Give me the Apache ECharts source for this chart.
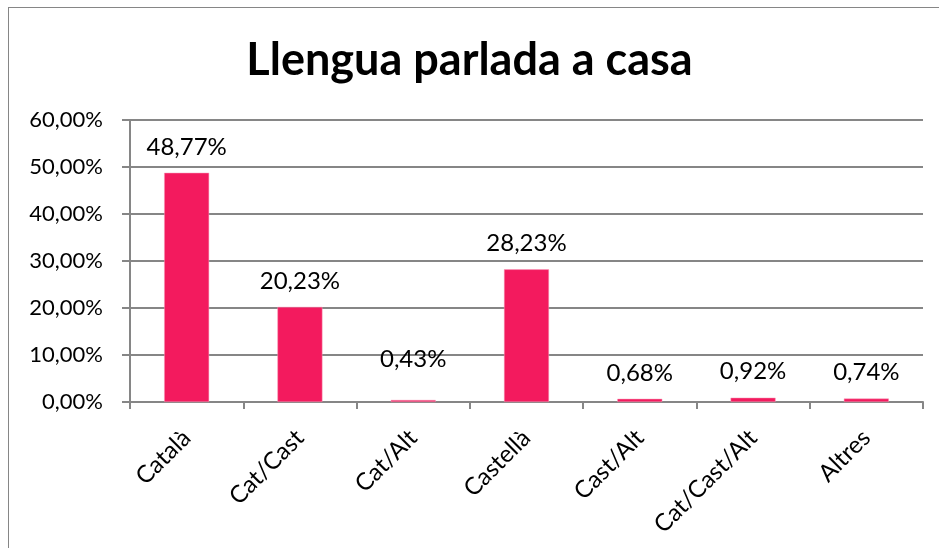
<!DOCTYPE html>
<html>
<head>
<meta charset="utf-8">
<script src="https://cdn.jsdelivr.net/npm/echarts@6/dist/echarts.min.js"></script>
<style>
  html, body { margin: 0; padding: 0; background: #fff; }
  #main { width: 939px; height: 548px; }
  #frame { position: absolute; left: 8px; top: 7px; width: 960px; height: 600px; border: 1px solid #868686; box-sizing: border-box; pointer-events: none; }
</style>
</head>
<body>
<div id="main"></div>
<div id="frame"></div>
<script>
var categories = ['Català', 'Cat/Cast', 'Cat/Alt', 'Castellà', 'Cast/Alt', 'Cat/Cast/Alt', 'Altres'];
var values = [48.77, 20.23, 0.43, 28.23, 0.68, 0.92, 0.74];
var titleText = 'Llengua parlada a casa';

function fmt(v) {
  return v.toFixed(2).replace('.', ',') + '%';
}

var barData = values.map(function(v, i) {
  var item = { value: v };
  // Cat/Alt label sits a bit higher in the original
  if (i === 2) {
    item.label = { offset: [0, -15] };
  }
  return item;
});

var chart = echarts.init(document.getElementById('main'));
chart.setOption({
  animation: false,
  title: {
    text: titleText,
    left: 'center',
    top: 33,
    textStyle: {
      fontFamily: 'Lato',
      fontWeight: 'bold',
      fontSize: 45,
      color: '#000'
    }
  },
  grid: {
    left: 130,
    right: 16,
    top: 120,
    bottom: 146
  },
  xAxis: {
    type: 'category',
    data: categories,
    axisLine: { lineStyle: { color: '#868686', width: 2 } },
    axisTick: { show: true, length: 7, lineStyle: { color: '#868686', width: 2 } },
    axisLabel: {
      rotate: 45,
      margin: 32,
      interval: 0,
      fontFamily: 'Lato',
      fontSize: 24,
      color: '#000'
    }
  },
  yAxis: {
    type: 'value',
    min: 0,
    max: 60,
    interval: 10,
    axisLine: { show: true, lineStyle: { color: '#868686', width: 2 } },
    axisTick: { show: true, length: 8, lineStyle: { color: '#868686', width: 2 } },
    splitLine: { lineStyle: { color: '#868686', width: 2 } },
    axisLabel: {
      margin: 27,
      fontFamily: 'Lato',
      fontSize: 22,
      color: '#000',
      formatter: function(v) { return fmt(v); }
    }
  },
  series: [{
    type: 'bar',
    data: barData,
    barWidth: 45,
    itemStyle: { color: '#F31A5E', borderColor: '#F7A0BC', borderWidth: 0.5 },
    label: {
      show: true,
      position: 'top',
      distance: 14,
      fontFamily: 'Lato',
      fontSize: 24,
      color: '#000',
      formatter: function(p) { return fmt(p.value); }
    }
  }]
});
</script>
</body>
</html>
